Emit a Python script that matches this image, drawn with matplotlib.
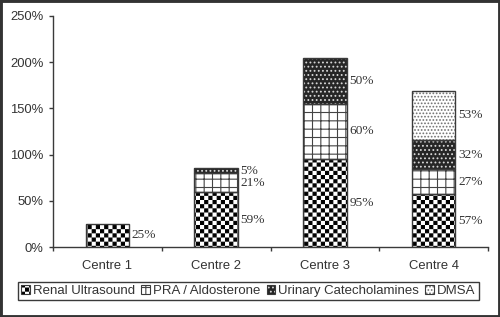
import warnings
import numpy as np
import matplotlib
matplotlib.use("Agg")
import matplotlib.pyplot as plt
import matplotlib.hatch as mhatch
import matplotlib.patches as mpatches
from matplotlib.path import Path
from matplotlib.legend_handler import HandlerTuple
from matplotlib.ticker import FuncFormatter, FixedLocator

warnings.filterwarnings("ignore", message=".*hatch must consist.*")

# ---------------- data ----------------
centres = ["Centre 1", "Centre 2", "Centre 3", "Centre 4"]
series_names = ["Renal Ultrasound", "PRA / Aldosterone",
                "Urinary Catecholamines", "DMSA"]
renal_us = [25, 59, 95, 57]
pra_aldo = [0, 21, 60, 27]
urinary_cat = [0, 5, 50, 32]
dmsa = [0, 0, 0, 53]
y_ticks = [0, 50, 100, 150, 200, 250]

# ---------------- custom checkerboard hatch ----------------
plt.rcParams["hatch.linewidth"] = 0.8
_inset = 0.8 * 100 / 72 / 2 / 100.0  # half hatch stroke, in hatch units


class CheckerHatch(mhatch.HatchPatternBase):
    def __init__(self, hatch, density):
        self.n = int(hatch.count("c") * density)
        self.num_vertices = (self.n * self.n // 2) * 5 if self.n else 0

    def set_vertices_and_codes(self, vertices, codes):
        n = self.n
        s = 1.0 / n
        k = 0
        for i in range(n):
            for j in range(n):
                if (i + j) % 2 == 0:
                    x0, y0 = j * s + _inset, i * s + _inset
                    x1, y1 = (j + 1) * s - _inset, (i + 1) * s - _inset
                    vertices[k:k + 5] = [(x0, y0), (x1, y0), (x1, y1),
                                         (x0, y1), (x0, y0)]
                    codes[k:k + 5] = [Path.MOVETO, Path.LINETO, Path.LINETO,
                                      Path.LINETO, Path.CLOSEPOLY]
                    k += 5


mhatch._hatch_types.append(CheckerHatch)

plt.rcParams["font.family"] = ["Liberation Sans", "DejaVu Sans"]

styles = [
    dict(face="white", hcolor="black", hatch="cccc"),
    dict(face="white", hcolor="#444444", hatch="++"),
    dict(face="#262626", hcolor="#d8d8d8", hatch="...."),
    dict(face="white", hcolor="#707070", hatch="....."),
]
outline = "#3a3a3a"
text_col = "#333333"

fig = plt.figure(figsize=(5.0, 3.17), dpi=100)
ax = fig.add_axes([53 / 500, 1 - 247 / 317, 435 / 500, 231 / 317])

x = np.arange(len(centres))
width = 0.4
series = [renal_us, pra_aldo, urinary_cat, dmsa]
bottom = np.zeros(len(centres))
handles = []
for vals, st in zip(series, styles):
    vals = np.array(vals, dtype=float)
    mask = vals > 0
    ax.bar(x[mask], vals[mask], width, bottom=bottom[mask], color=st["face"],
           edgecolor=st["hcolor"], hatch=st["hatch"], linewidth=0, zorder=2)
    ax.bar(x[mask], vals[mask], width, bottom=bottom[mask], facecolor="none",
           edgecolor=outline, linewidth=1.0, zorder=3)
    for xi, v, b in zip(x[mask], vals[mask], bottom[mask]):
        ax.annotate(f"{v:.0f}%", xy=(xi + width / 2, b + v / 2),
                    xytext=(2, 0), textcoords="offset points",
                    ha="left", va="center", fontsize=9.6, color=text_col,
                    family=["Liberation Serif", "DejaVu Serif"])
    bottom = bottom + vals
    h1 = mpatches.Patch(facecolor=st["face"], edgecolor=st["hcolor"],
                        hatch=st["hatch"], linewidth=0)
    h2 = mpatches.Patch(facecolor="none", edgecolor=outline, linewidth=0.8)
    handles.append((h1, h2))

ax.set_xlim(-0.5, len(centres) - 0.5)
ax.set_ylim(0, 250)
ax.set_yticks(y_ticks)
ax.yaxis.set_major_formatter(FuncFormatter(lambda v, p: f"{v:.0f}%"))
ax.set_xticks(x)
ax.set_xticklabels(centres)
ax.xaxis.set_minor_locator(FixedLocator(np.arange(len(centres) + 1) - 0.5))

for s in ["top", "right"]:
    ax.spines[s].set_visible(False)
for s in ["left", "bottom"]:
    ax.spines[s].set_color(outline)
    ax.spines[s].set_linewidth(1.0)

ax.tick_params(axis="y", which="major", length=3, width=1, color=outline,
               labelsize=9.4, labelcolor=text_col, pad=4)
ax.tick_params(axis="x", which="major", length=0, labelsize=9.4,
               labelcolor=text_col, pad=9.5)
ax.tick_params(axis="x", which="minor", length=3, width=1, color=outline)

fig.legend(handles, series_names, loc="center",
           bbox_to_anchor=(0.497, 0.082), ncol=4, frameon=True,
           fancybox=False, edgecolor=outline, framealpha=1, fontsize=9.5,
           handlelength=0.65, handleheight=0.65, handletextpad=0.25,
           columnspacing=0.45, borderpad=0.25, borderaxespad=0,
           labelcolor=text_col,
           handler_map={tuple: HandlerTuple(ndivide=1)})

fig.patches.append(mpatches.Rectangle((0, 0), 1, 1, transform=fig.transFigure,
                                      fill=False, edgecolor="#333333",
                                      linewidth=3.5, zorder=10))

fig.savefig("out.png", dpi=100)
